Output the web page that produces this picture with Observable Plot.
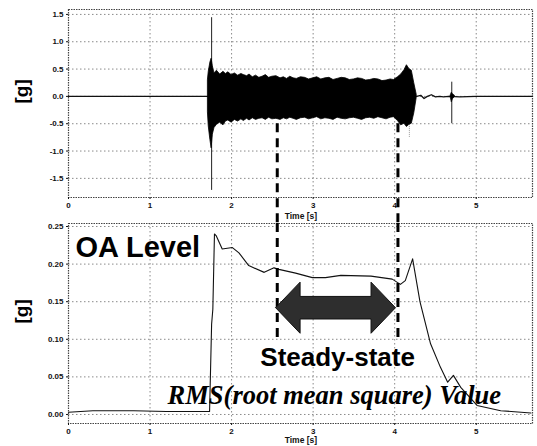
<!DOCTYPE html>
<html><head><meta charset="utf-8">
<script src="https://cdn.jsdelivr.net/npm/d3@7"></script>
<script src="https://cdn.jsdelivr.net/npm/@observablehq/plot@0.6"></script>
<style>
body{margin:0;background:#fff;}
#wrap{position:relative;width:537px;height:446px;overflow:hidden;background:#fff;}
#topPanel,#botPanel{position:absolute;left:0;}
#topPanel{top:0px}
#botPanel{top:220px}
svg{overflow:visible}
</style></head><body><div id="wrap"><div id="topPanel"></div><div id="botPanel"></div></div>
<script>
// ---------- data ----------
const xTicks = [0, 1, 2, 3, 4, 5];
const yTicksTop = [-1.5, -1.0, -0.5, 0.0, 0.5, 1.0, 1.5];
const yTicksBot = [0.00, 0.05, 0.10, 0.15, 0.20, 0.25];

// top panel: quiet baseline before the event
const baseT = [0, 1.71];
const baseV = [0, 0];
// top panel: envelope of the dense vibration signal
const envT  = [1.71,1.72,1.74,1.755,1.77,1.79,1.82,1.86,1.90,1.93,1.96,2.00,2.04,2.08,2.12,2.15,2.19,2.22,2.26,2.30,2.34,2.38,2.42,2.46,2.50,2.55,2.60,2.64,2.68,2.72,2.76,2.80,2.85,2.90,2.95,3.00,3.05,3.10,3.15,3.20,3.25,3.30,3.35,3.40,3.45,3.50,3.55,3.60,3.65,3.70,3.75,3.80,3.85,3.90,3.95,3.99,4.04,4.08,4.12,4.15,4.18,4.21,4.24,4.27];
const envUp = [0.30,0.45,0.62,0.69,0.55,0.42,0.47,0.40,0.45,0.41,0.44,0.39,0.42,0.38,0.41,0.39,0.37,0.40,0.35,0.38,0.34,0.36,0.39,0.34,0.36,0.37,0.33,0.35,0.32,0.36,0.33,0.32,0.35,0.34,0.31,0.33,0.35,0.31,0.33,0.34,0.30,0.32,0.34,0.33,0.30,0.31,0.33,0.32,0.29,0.30,0.32,0.31,0.28,0.29,0.31,0.30,0.35,0.40,0.48,0.57,0.50,0.47,0.24,0.03];
const envLo = [-0.30,-0.55,-0.80,-0.95,-0.70,-0.58,-0.52,-0.48,-0.53,-0.46,-0.44,-0.48,-0.43,-0.46,-0.42,-0.45,-0.41,-0.44,-0.40,-0.43,-0.41,-0.40,-0.43,-0.39,-0.42,-0.41,-0.43,-0.40,-0.42,-0.39,-0.41,-0.43,-0.40,-0.39,-0.42,-0.40,-0.38,-0.42,-0.40,-0.41,-0.43,-0.39,-0.41,-0.42,-0.40,-0.39,-0.41,-0.43,-0.40,-0.39,-0.41,-0.38,-0.40,-0.42,-0.39,-0.38,-0.45,-0.53,-0.50,-0.56,-0.52,-0.50,-0.31,-0.03];
// top panel: isolated spikes
const spikeT  = [1.755, 4.70];
const spikeLo = [-1.72, -0.50];
const spikeHi = [1.44, 0.26];
const spike2T = [4.18];
const spike2Lo = [-0.75];
const spike2Hi = [0.0];
// top panel: tail after the event
const tailT = [4.27, 4.32, 4.36, 4.40, 4.45, 4.50, 4.55, 4.60, 4.66, 4.80, 5.00, 5.69];
const tailV = [0.00, 0.02, -0.04, 0.00, 0.03, -0.01, 0.00, -0.01, 0.00, -0.01, 0.00, 0.00];
const burstT  = [4.685, 4.70, 4.715, 4.74];
const burstUp = [0.01, 0.07, 0.04, 0.01];
const burstLo = [-0.01, -0.11, -0.05, -0.01];

// bottom panel: RMS (overall level)
const rmsT = [0, 0.3, 0.8, 1.2, 1.73, 1.755, 1.77, 1.79, 1.81, 1.885, 2.01, 2.09, 2.21, 2.40, 2.52, 2.58, 2.785, 2.99, 3.15, 3.34, 3.71, 3.97, 4.07, 4.13, 4.22, 4.31, 4.44, 4.56, 4.65, 4.72, 4.81, 5.01, 5.30, 5.67];
const rmsV = [0.003, 0.005, 0.005, 0.004, 0.004, 0.12, 0.14, 0.24, 0.238, 0.220, 0.222, 0.215, 0.198, 0.189, 0.195, 0.193, 0.188, 0.182, 0.182, 0.185, 0.184, 0.180, 0.173, 0.178, 0.207, 0.150, 0.094, 0.063, 0.043, 0.052, 0.036, 0.012, 0.005, 0.002];

// steady-state markers
const steadyT = [2.56, 4.04];
const arrowX = [2.54, 4.01];    // tips
const arrowHead = 0.30;          // head length (s)
const arrowY = 0.142, arrowHeadH = 0.034, arrowShaftH = 0.015;

const labelOA = "OA Level";
const labelSteady = "Steady-state";
const labelRMS = "RMS(root mean square) Value";
const labelX = "Time [s]";
const labelY = "[g]";

// ---------- build ----------
const rows = (n, f) => d3.range(n).map(f);
const env = rows(envT.length, i => ({t: envT[i], hi: envUp[i], lo: envLo[i]}));
const burst = rows(burstT.length, i => ({t: burstT[i], hi: burstUp[i], lo: burstLo[i]}));
const base = rows(baseT.length, i => ({t: baseT[i], v: baseV[i]}));
const tail = rows(tailT.length, i => ({t: tailT[i], v: tailV[i]}));
const spikes = rows(spikeT.length, i => ({t: spikeT[i], lo: spikeLo[i], hi: spikeHi[i]}));
const spikes2 = rows(spike2T.length, i => ({t: spike2T[i], lo: spike2Lo[i], hi: spike2Hi[i]}));
const rms = rows(rmsT.length, i => ({t: rmsT[i], v: rmsV[i]}));

const [ax0, ax1] = arrowX;
const arrowPoly = [
  [ax0, arrowY], [ax0 + arrowHead, arrowY + arrowHeadH], [ax0 + arrowHead, arrowY + arrowShaftH],
  [ax1 - arrowHead, arrowY + arrowShaftH], [ax1 - arrowHead, arrowY + arrowHeadH], [ax1, arrowY],
  [ax1 - arrowHead, arrowY - arrowHeadH], [ax1 - arrowHead, arrowY - arrowShaftH],
  [ax0 + arrowHead, arrowY - arrowShaftH], [ax0 + arrowHead, arrowY - arrowHeadH], [ax0, arrowY]
];

const gridStyle = {stroke: "#8a8a8a", strokeOpacity: 1, strokeWidth: 1, strokeDasharray: "1.5,2.5"};
const frameStyle = {stroke: "#444", strokeOpacity: 1, strokeWidth: 1.2, strokeDasharray: "1.5,1"};
const baseStyle = {fontFamily: "'Liberation Sans', Arial, sans-serif", fontSize: "8px", overflow: "visible", background: "transparent", color: "#111"};
const xLabelX = 2.85;

const topChart = Plot.plot({
  width: 537, height: 220,
  marginLeft: 68, marginRight: 5, marginTop: 9, marginBottom: 23,
  x: {domain: [0, 5.69]},
  y: {domain: [-1.85, 1.59]},
  style: baseStyle,
  marks: [
    Plot.gridX(xTicks.slice(1), gridStyle),
    Plot.gridY(yTicksTop, gridStyle),
    Plot.frame(frameStyle),
    Plot.axisX(xTicks, {tickSize: 2, tickPadding: 3, tickFormat: d => String(d), label: null, fontWeight: "bold"}),
    Plot.axisY(yTicksTop, {tickSize: 2, tickPadding: 3, tickFormat: d => d.toFixed(1), label: null, fontWeight: "bold"}),
    Plot.line(base, {x: "t", y: "v", stroke: "#111", strokeWidth: 1.3}),
    Plot.line(tail, {x: "t", y: "v", stroke: "#111", strokeWidth: 1.3}),
    Plot.ruleX(spikes2, {x: "t", y1: "lo", y2: "hi", stroke: "#999", strokeWidth: 1, strokeDasharray: "1,1"}),
    Plot.ruleX(spikes, {x: "t", y1: "lo", y2: "hi", stroke: "#222", strokeWidth: 1}),
    Plot.areaY(env, {x: "t", y1: "lo", y2: "hi", fill: "#000", stroke: "#000", strokeWidth: 0.8}),
    Plot.areaY(burst, {x: "t", y1: "lo", y2: "hi", fill: "#000", stroke: "#000", strokeWidth: 0.6}),
    Plot.ruleX(steadyT, {y1: -0.5, y2: -2.31, stroke: "#000", strokeWidth: 3, strokeDasharray: "9,6"}),
    Plot.text([labelX], {x: xLabelX, frameAnchor: "bottom", dy: 21, fontSize: 8.5, fontWeight: "bold", fill: "#111"}),
    Plot.text([labelY], {frameAnchor: "left", dx: -47, rotate: -90, fontSize: 19, fontWeight: "bold", fill: "#000"})
  ]
});
document.getElementById("topPanel").appendChild(topChart);

const botChart = Plot.plot({
  width: 537, height: 226,
  marginLeft: 68, marginRight: 5, marginTop: 3, marginBottom: 23,
  x: {domain: [0, 5.69]},
  y: {domain: [-0.012, 0.254]},
  style: baseStyle,
  marks: [
    Plot.gridX(xTicks.slice(1), gridStyle),
    Plot.gridY(yTicksBot, gridStyle),
    Plot.frame(frameStyle),
    Plot.axisX(xTicks, {tickSize: 2, tickPadding: 3, tickFormat: d => String(d), label: null, fontWeight: "bold"}),
    Plot.axisY(yTicksBot, {tickSize: 2, tickPadding: 3, tickFormat: d => d.toFixed(2), label: null, fontWeight: "bold"}),
    Plot.line(rms, {x: "t", y: "v", stroke: "#111", strokeWidth: 1.1}),
    Plot.ruleX(steadyT, {y1: 0.254, y2: 0.098, stroke: "#000", strokeWidth: 3, strokeDasharray: "9,6"}),
    Plot.line(arrowPoly, {x: d => d[0], y: d => d[1], fill: "#2e2e2e", stroke: "#111", strokeWidth: 1}),
    Plot.text([labelOA], {x: 0.086, y: 0.209, textAnchor: "start", lineAnchor: "bottom", fontSize: 29, fontWeight: "bold", fill: "#000", fontFamily: "'Liberation Sans', Arial, sans-serif"}),
    Plot.text([labelSteady], {x: 3.30, y: 0.065, lineAnchor: "bottom", fontSize: 26, fontWeight: "bold", fill: "#000", fontFamily: "'Liberation Sans', Arial, sans-serif"}),
    Plot.text([labelRMS], {x: 3.26, y: 0.0146, lineAnchor: "bottom", fontSize: 26.5, fontWeight: "bold", fontStyle: "italic", fill: "#000", fontFamily: "'Liberation Serif', 'Times New Roman', serif"}),
    Plot.text([labelX], {x: xLabelX, frameAnchor: "bottom", dy: 19.5, fontSize: 8.5, fontWeight: "bold", fill: "#111"}),
    Plot.text([labelY], {frameAnchor: "left", dx: -47, rotate: -90, fontSize: 19, fontWeight: "bold", fill: "#000"})
  ]
});
document.getElementById("botPanel").appendChild(botChart);
</script>
</body></html>
